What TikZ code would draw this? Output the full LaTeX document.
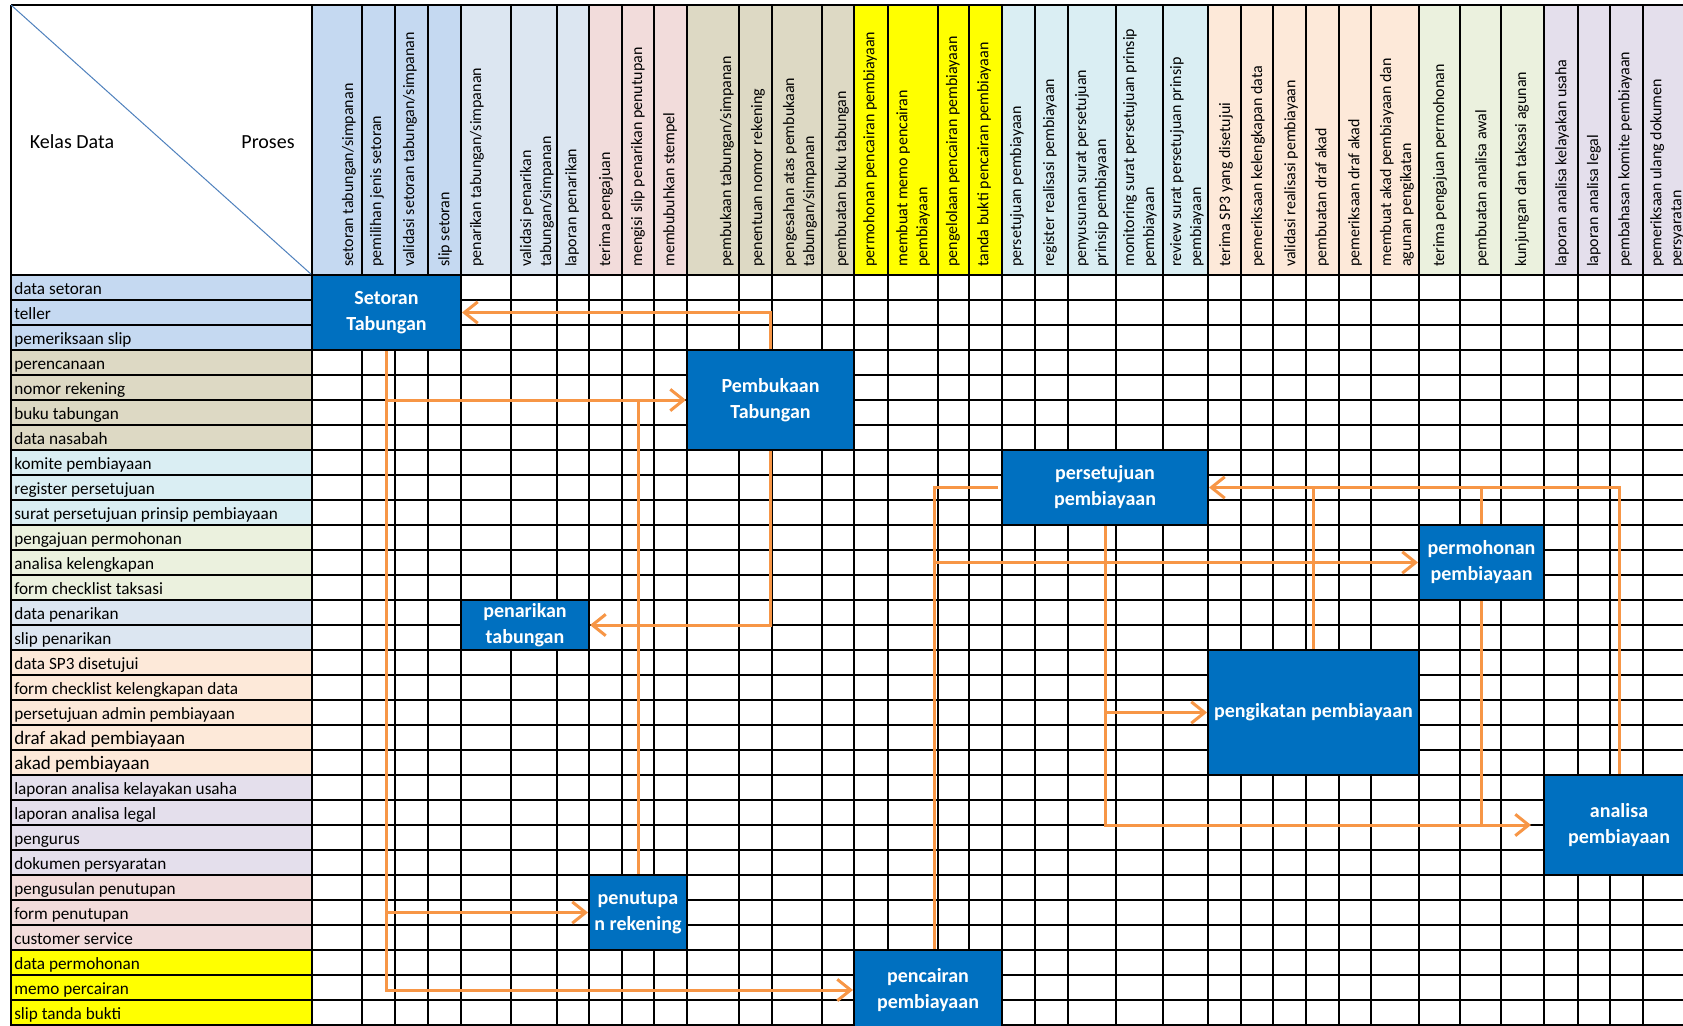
\documentclass[tikz,border=0pt]{standalone}
\usepackage{fontspec}
\setmainfont{Carlito}
\usetikzlibrary{arrows.meta}

\definecolor{boxblue}{HTML}{0070C0}
\definecolor{flowline}{HTML}{F79646}
\definecolor{diagblue}{HTML}{4F81BD}
\definecolor{grpSetor}{HTML}{C5D9F1}
\definecolor{grpTarik}{HTML}{DCE6F1}
\definecolor{grpTutup}{HTML}{F2DCDB}
\definecolor{grpBuka}{HTML}{DDD9C4}
\definecolor{grpCair}{HTML}{FFFF00}
\definecolor{grpSetuju}{HTML}{DAEEF3}
\definecolor{grpIkat}{HTML}{FDE9D9}
\definecolor{grpMohon}{HTML}{EBF1DE}
\definecolor{grpAnalisa}{HTML}{E4DFEC}

\newcommand\besar{\fontsize{14.3}{16}\selectfont}
\def\colx{312,362,395,428,461,511,557,589,622,654,687,739,772,822,854,888,938,969,1002,1035,1068,1116,1163,1208,1241,1273,1306,1339,1371,1419,1460,1501,1544,1578,1610,1643,1700}

\tikzset{
    grid line/.style={line width=1.5pt,black},
    baris/.style={anchor=base west,inner sep=0pt,font=\fontsize{12.9}{15}\selectfont},
    kolom/.style={anchor=west,rotate=90,inner sep=0pt,align=left,font=\fontsize{12}{15}\selectfont},
    prosesbox/.style n args={2}{draw=black,line width=1.5pt,fill=boxblue,text=white,align=center,inner sep=0pt,
        minimum width=#1*0.75pt,minimum height=#2*0.75pt,font=\bfseries\fontsize{15}{19.5}\selectfont},
    flow/.style={draw=flowline,line width=2.25pt,-{Straight Barb[length=10pt,width=16pt]}},
    link/.style={draw=flowline,line width=2.25pt},
}

\begin{document}
\begin{tikzpicture}[x=0.75pt,y=-0.75pt]
    \useasboundingbox (0,0) rectangle (1683,1025);
    \clip (0,0) rectangle (1683,1025);
    \fill[white] (0,0) rectangle (1683,1025);
    %% header colours
    \foreach \a/\b/\c in {312/461/grpSetor,461/589/grpTarik,589/687/grpTutup,687/854/grpBuka,854/1002/grpCair,
        1002/1208/grpSetuju,1208/1419/grpIkat,1419/1544/grpMohon,1544/1700/grpAnalisa}
        \fill[\c] (\a,5) rectangle (\b,275);
    %% row colours
    \foreach \a/\b/\c in {275/350/grpSetor,350/450/grpBuka,450/525/grpSetuju,525/600/grpMohon,600/650/grpTarik,
        650/775/grpIkat,775/875/grpAnalisa,875/950/grpTutup,950/1030/grpCair}
        \fill[\c] (11,\a) rectangle (312,\b);
    %% grid
    \draw[grid line] (11,5) -- (1700,5);
    \foreach \y in {275,300,...,1025}
        \draw[grid line] (11,\y) -- (1700,\y);
    \draw[grid line] (11,5) -- (11,1030);
    \foreach \x in \colx
        \draw[grid line] (\x,5) -- (\x,1030);
    %% corner cell
    \draw[diagblue,line width=0.75pt] (11,5) -- (312,275);
    \node[font=\fontsize{15}{17}\selectfont] (kelasdata) at (72,142) {Kelas Data};
    \node[font=\fontsize{15}{17}\selectfont] (proseshead) at (268,142) {Proses};
    %% row labels
    \foreach \t [count=\i] in {data setoran,teller,pemeriksaan slip,perencanaan,nomor rekening,buku tabungan,
        data nasabah,komite pembiayaan,register persetujuan,surat persetujuan prinsip pembiayaan,
        pengajuan permohonan,analisa kelengkapan,form checklist taksasi,data penarikan,slip penarikan,
        data SP3 disetujui,form checklist kelengkapan data,persetujuan admin pembiayaan,
        {\besar draf akad pembiayaan},{\besar akad pembiayaan},laporan analisa kelayakan usaha,
        laporan analisa legal,pengurus,dokumen persyaratan,pengusulan penutupan,form penutupan,
        customer service,data permohonan,memo percairan,slip tanda bukti}
        \node[baris] (baris\i) at (14,{275+25*\i-6}) {\t};
    %% column labels
    \foreach \x/\t [count=\j] in {349/{setoran tabungan/simpanan},377/{pemilihan jenis setoran},
        410/{validasi setoran tabungan/simpanan},445/{slip setoran},477/{penarikan tabungan/simpanan},
        537/{validasi penarikan\\tabungan/simpanan},572/{laporan penarikan},606/{terima pengajuan},
        638/{mengisi slip penarikan penutupan},670/{membubuhkan stempel},727/{pembukaan tabungan/simpanan},
        758/{penentuan nomor rekening},800/{pengesahan atas pembukaan\\tabungan/simpanan},
        842/{pembuatan buku tabungan},870/{permohonan pencairan pembiayaan},
        913/{membuat memo pencairan\\pembiayaan},953/{pengelolaan pencairan pembiayaan},
        984/{tanda bukti pencairan pembiayaan},1017/{persetujuan pembiayaan},
        1050/{register realisasi pembiayaan},1092/{penyusunan surat persetujuan\\prinsip pembiayaan},
        1140/{monitoring surat persetujuan prinsip\\pembiayaan},1187/{review surat persetujuan prinsip\\pembiayaan},
        1226/{terima SP3 yang disetujui},1258/{pemeriksaan kelengkapan data},
        1291/{validasi realisasi pembiayaan},1322/{pembuatan draf akad},1355/{pemeriksaan draf akad},
        1397/{membuat akad pembiayaan dan\\agunan pengikatan},1440/{terima pengajuan permohonan},
        1482/{pembuatan analisa awal},1522/{kunjungan dan taksasi agunan},
        1562/{laporan analisa kelayakan usaha},1594/{laporan analisa legal},
        1625/{pembahasan komite pembiayaan},1667/{pemeriksaan ulang dokumen\\persyaratan}}
        \node[kolom] (kolom\j) at (\x,267) {\t};
    %% process boxes
    \node[prosesbox={149}{75}] (setoran) at (386.5,312.5) {Setoran\\Tabungan};
    \node[prosesbox={167}{100}] (pembukaan) at (770.5,400) {Pembukaan\\Tabungan};
    \node[prosesbox={206}{75}] (persetujuan) at (1105,487.5) {persetujuan\\pembiayaan};
    \node[prosesbox={125}{75}] (permohonan) at (1481.5,562.5) {permohonan\\pembiayaan};
    \node[prosesbox={128}{50}] (penarikan) at (525,625) {penarikan\\tabungan};
    \node[prosesbox={211}{125}] (pengikatan) at (1313.5,712.5) {pengikatan pembiayaan};
    \node[prosesbox={150}{100}] (analisa) at (1619,825) {analisa\\pembiayaan};
    \node[prosesbox={98}{75}] (penutupan) at (638,912.5) {penutupa\\n rekening};
    \node[prosesbox={148}{80}] (pencairan) at (928,990) {pencairan\\pembiayaan};
    %% tabungan flows
    \draw[flow] (pembukaan.north) |- (setoran.east);
    \draw[flow] (setoran.south) |- (pencairan.west);
    \draw[flow] (setoran.south |- pembukaan.west) -- (pembukaan.west);
    \draw[flow] (setoran.south |- penutupan.west) -- (penutupan.west);
    \draw[link] (penutupan.north |- pembukaan.west) -- (penutupan.north);
    \draw[flow] (pembukaan.south) |- (penarikan.east);
    %% pembiayaan flows
    \coordinate (cair) at ([xshift=4.5pt]pencairan.north);
    \draw[link] (cair) |- ([xshift=-2pt]persetujuan.west);
    \draw[flow] (cair |- permohonan.west) -- (permohonan.west);
    \draw[flow] (persetujuan.south) |- ([xshift=-9pt]analisa.west);
    \draw[flow] (persetujuan.south |- pengikatan.west) -- (pengikatan.west);
    \draw[link] (permohonan.south) -- (permohonan.south |- analisa.west);
    \draw[flow] (analisa.north) |- (persetujuan.east);
    \draw[link] (pengikatan.north) -- (pengikatan.north |- persetujuan.east);
    \draw[link] (permohonan.north) -- (permohonan.north |- persetujuan.east);
\end{tikzpicture}
\end{document}
